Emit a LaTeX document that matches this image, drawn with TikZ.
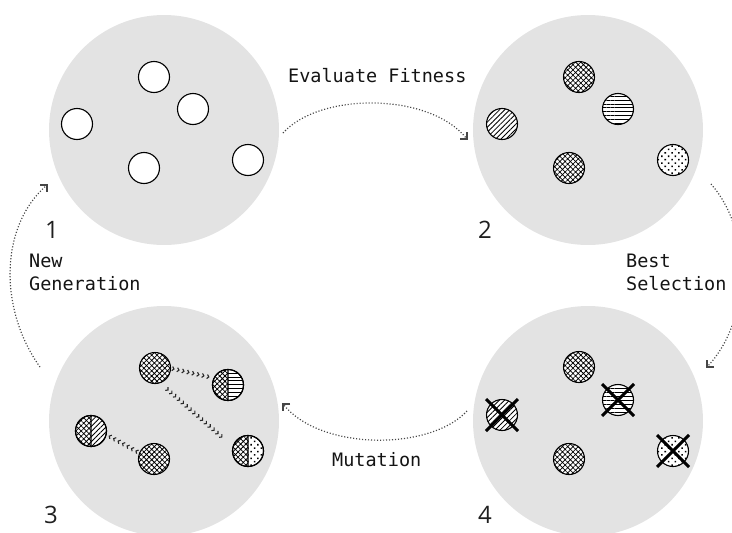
\documentclass[tikz,border=0pt]{standalone}
\usepackage{fontspec}
\newfontfamily\lblfont{DejaVu Sans Mono}
\newfontfamily\digitfont{Open Sans}
\usetikzlibrary{patterns.meta,decorations.markings,calc}
\definecolor{bigfill}{RGB}{227,227,227}
\definecolor{arcgray}{RGB}{70,70,70}
\definecolor{chevgray}{RGB}{40,40,40}
\begin{document}
\begin{tikzpicture}[x=1pt,y=-1pt,
  big/.style={circle,fill=bigfill,minimum size=230pt,inner sep=0pt},
  ind/.style={circle,draw=black,line width=1.1pt,fill=white,minimum size=31pt,inner sep=0pt},
  xh/.style={postaction={pattern={Hatch[angle=45,distance=3.7pt,line width=0.75pt]}}},
  hl/.style={postaction={pattern={Lines[angle=0,distance=3.9pt,line width=0.85pt]}}},
  dl/.style={postaction={pattern={Lines[angle=45,distance=3.6pt,line width=0.85pt]}}},
  dt/.style={postaction={pattern={Dots[radius=1.1pt,distance=4.8pt,angle=45]}}},
  xhfill/.style={pattern={Hatch[angle=45,distance=3.7pt,line width=0.75pt]}},
  hlfill/.style={pattern={Lines[angle=0,distance=3.9pt,line width=0.85pt]}},
  dlfill/.style={pattern={Lines[angle=45,distance=3.6pt,line width=0.85pt]}},
  dtfill/.style={pattern={Dots[radius=1.1pt,distance=4.8pt,angle=45]}},
  rim/.style={draw=black,line width=1.1pt},
  xmark/.style={draw=black,line width=3pt},
  flow/.style={draw=arcgray,line width=1.2pt,dash pattern=on 1.1pt off 1.9pt},
  tipc/.style={draw=arcgray,line width=1.1pt},
  chev/.style={decorate,decoration={markings,
     mark=between positions 0 and 1 step 5.1pt with {\draw[chevgray,line width=1.1pt] (-1.8pt,2.1pt) -- (0pt,0pt) -- (-1.8pt,-2.1pt);}}},
  lbl/.style={font=\lblfont\fontsize{18.5}{22}\selectfont,inner sep=0pt,text=black!92},
  num/.style={font=\digitfont\fontsize{24}{28}\selectfont,inner sep=0pt,text=black!88}
]
\useasboundingbox (0,0) rectangle (732,533);

% populations
\node[big] (c1) at (164,130) {};
\node[big] (c2) at (588,130) {};
\node[big] (c3) at (164,421) {};
\node[big] (c4) at (588,421) {};

% group 1
\node[ind] (g1a) at (154,77) {};
\node[ind] (g1b) at (193,109) {};
\node[ind] (g1c) at (77,124) {};
\node[ind] (g1d) at (144,168) {};
\node[ind] (g1e) at (248,160) {};

% group 2
\node[ind,xh] (g2a) at (579,77) {};
\node[ind,hl] (g2b) at (618,109) {};
\node[ind,dl] (g2c) at (502,124) {};
\node[ind,xh] (g2d) at (569,168) {};
\node[ind,dt] (g2e) at (673,160) {};

% group 4
\node[ind,xh] (g4a) at (579,367) {};
\node[ind,hl] (g4b) at (618,400) {};
\node[ind,dl] (g4c) at (502,415) {};
\node[ind,xh] (g4d) at (569,459) {};
\node[ind,dt] (g4e) at (673,451) {};
\draw[xmark] (g4b) +(-16,-16) -- +(16,16) (g4b) +(-16,16) -- +(16,-16);
\draw[xmark] (g4c) +(-16,-16) -- +(16,16) (g4c) +(-16,16) -- +(16,-16);
\draw[xmark] (g4e) +(-16,-16) -- +(16,16) (g4e) +(-16,16) -- +(16,-16);

% group 3
\node[ind,xh] (g3a) at (155,368) {};
\node[ind] (g3b) at (228,385) {};
\node[ind] (g3c) at (91,431) {};
\node[ind,xh] (g3d) at (154,459) {};
\node[ind] (g3e) at (248,451) {};
\path[xhfill] (g3b.north) arc[start angle=90,end angle=270,radius=15.5pt] -- cycle;
\path[hlfill] (g3b.south) arc[start angle=-90,end angle=90,radius=15.5pt] -- cycle;
\draw[rim] (g3b.north) -- (g3b.south) (g3b) circle[radius=15.5pt];
\path[xhfill] (g3c.north) arc[start angle=90,end angle=270,radius=15.5pt] -- cycle;
\path[dlfill] (g3c.south) arc[start angle=-90,end angle=90,radius=15.5pt] -- cycle;
\draw[rim] (g3c.north) -- (g3c.south) (g3c) circle[radius=15.5pt];
\path[xhfill] (g3e.north) arc[start angle=90,end angle=270,radius=15.5pt] -- cycle;
\path[dtfill] (g3e.south) arc[start angle=-90,end angle=90,radius=15.5pt] -- cycle;
\draw[rim] (g3e.north) -- (g3e.south) (g3e) circle[radius=15.5pt];

% mutation chevrons
\path[chev] ($(g3a)+(19,1)$) -- ($(g3b)+(-19,-8)$);
\path[chev] ($(g3a)+(13,22)$) -- ($(g3e)+(-25,-13)$);
\path[chev] ($(g3d)+(-18,-8)$) -- ($(g3c)+(18,5)$);

% cycle arcs
\draw[flow] ($(c1)+(119,3)$) .. controls (320,92) and (430,92) .. ($(c2)+(-121,9)$);
\draw[tipc] ($(c2)+(-121,9)$) +(-7,0) -- ($(c2)+(-121,9)$) -- +(0,-7);

\draw[flow] ($(c2)+(123,54)$) .. controls (752,230) and (752,320) .. ($(c4)+(119,-54)$);
\draw[tipc] ($(c4)+(119,-54)$) +(0,-7) -- ($(c4)+(119,-54)$) -- +(7,0);

\draw[flow] ($(c4)+(-121,-10)$) .. controls (430,451) and (320,451) .. ($(c3)+(119,-17)$);
\draw[tipc] ($(c3)+(119,-17)$) +(7,0) -- ($(c3)+(119,-17)$) -- +(0,7);

\draw[flow] ($(c3)+(-124,-54)$) .. controls (-1,310) and (-1,226) .. ($(c1)+(-117,55)$);
\draw[tipc] ($(c1)+(-117,55)$) +(-7,0) -- ($(c1)+(-117,55)$) -- +(0,7);

% labels
\node[lbl,anchor=base west] (t1) at (288,82) {Evaluate Fitness};
\node[lbl,anchor=base west] (t2a) at (29,267) {New};
\node[lbl,anchor=base west] (t2b) at (29,290) {Generation};
\node[lbl,anchor=base west] (t3a) at (626,267) {Best};
\node[lbl,anchor=base west] (t3b) at (626,290) {Selection};
\node[lbl,anchor=base west] (t4) at (332,466) {Mutation};

\node[num,anchor=base] (n1) at (52,238) {1};
\node[num,anchor=base] (n2) at (485,238) {2};
\node[num,anchor=base] (n3) at (51,523) {3};
\node[num,anchor=base] (n4) at (485,523) {4};
\end{tikzpicture}
\end{document}
